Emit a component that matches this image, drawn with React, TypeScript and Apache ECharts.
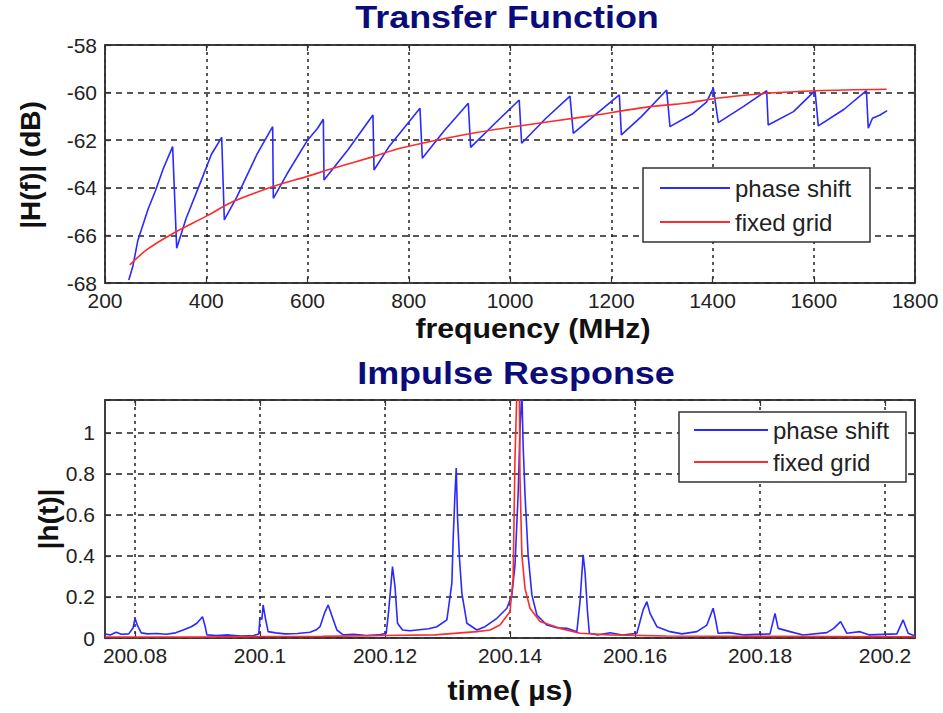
import React, { useEffect, useRef } from "react";
import * as echarts from "echarts";

// ---------- Transfer function data (frequency in MHz, |H(f)| in dB) ----------
const tfBlueFreq = [
  247, 255, 265, 285, 300, 315, 333.6, 341.6, 360, 390, 410, 430.5, 435.7, 460, 500, 531.2,
  532.5, 560, 600, 620, 631.3, 632.6, 680, 729.3, 731.4, 760, 822.2, 826.8, 870, 917.6, 922.3,
  970, 1018.2, 1023, 1070, 1118.5, 1125, 1170, 1216, 1220, 1260, 1309.5, 1316, 1360, 1388,
  1401.6, 1411.5, 1460, 1507, 1510, 1560, 1602.5, 1609, 1660, 1704, 1707.7, 1716, 1731, 1745,
];
const tfBlueDb = [
  -67.87, -67.3, -66.2, -64.9, -64.1, -63.2, -62.27, -66.54, -65.3, -63.7, -62.6, -61.88, -65.35,
  -64.4, -62.6, -61.43, -64.44, -63.4, -62.0, -61.5, -61.12, -63.67, -62.4, -60.94, -63.25, -62.3,
  -60.66, -62.76, -61.6, -60.45, -62.3, -61.3, -60.31, -62.13, -61.1, -60.15, -61.71, -60.9, -60.1,
  -61.78, -61.0, -59.89, -61.43, -60.9, -60.4, -59.82, -61.26, -60.6, -59.92, -61.36, -60.8, -59.92,
  -61.4, -60.7, -59.92, -61.5, -61.08, -60.94, -60.76,
];
const tfRedFreq = [
  249, 282, 335, 401, 453, 532, 598, 651, 730, 783, 907, 1018, 1149, 1277, 1346, 1408, 1507, 1606, 1744,
];
const tfRedDb = [
  -67.24, -66.61, -65.91, -65.18, -64.58, -63.95, -63.53, -63.18, -62.69, -62.34, -61.78, -61.4,
  -61.01, -60.59, -60.45, -60.24, -60.03, -59.92, -59.86,
];

// ---------- Impulse response data (time in µs, |h(t)|) ----------
const irBlueTime = [
  200.0752, 200.076, 200.077, 200.0778, 200.079, 200.0797, 200.08, 200.0804, 200.081, 200.082,
  200.0835, 200.085, 200.0865, 200.0877, 200.089, 200.0899, 200.0908, 200.0912, 200.0915, 200.093,
  200.095, 200.097, 200.099, 200.0998, 200.1, 200.1003, 200.1005, 200.1009, 200.1013, 200.1025,
  200.104, 200.106, 200.108, 200.109, 200.1096, 200.1103, 200.1109, 200.1116, 200.1123, 200.1133,
  200.115, 200.117, 200.119, 200.1202, 200.1206, 200.1212, 200.1216, 200.122, 200.1228, 200.124,
  200.1255, 200.127, 200.1283, 200.1299, 200.1307, 200.1309, 200.1312, 200.1314, 200.1316, 200.1319,
  200.1323, 200.1331, 200.1347, 200.136, 200.1379, 200.1395, 200.1403, 200.1408, 200.1413, 200.1416,
  200.1419, 200.1421, 200.1424, 200.1429, 200.1435, 200.1443, 200.1459, 200.1475, 200.1491, 200.1507,
  200.1512, 200.1517, 200.152, 200.1524, 200.1527, 200.154, 200.156, 200.158, 200.1603, 200.1613,
  200.1619, 200.1624, 200.1635, 200.1656, 200.1675, 200.1699, 200.1715, 200.1725, 200.1729, 200.1733,
  200.175, 200.1775, 200.1816, 200.1824, 200.1829, 200.1848, 200.1869, 200.1907, 200.1918, 200.1929,
  200.1939, 200.196, 200.1975, 200.2019, 200.2029, 200.2037, 200.2048,
];
const irBlueVal = [
  0.02, 0.015, 0.028, 0.018, 0.02, 0.05, 0.096, 0.06, 0.025, 0.02,
  0.022, 0.018, 0.025, 0.039, 0.055, 0.072, 0.104, 0.06, 0.015, 0.012,
  0.015, 0.01, 0.012, 0.02, 0.1, 0.09, 0.161, 0.09, 0.031, 0.025,
  0.02, 0.022, 0.028, 0.04, 0.055, 0.12, 0.161, 0.1, 0.039, 0.015,
  0.018, 0.012, 0.015, 0.023, 0.137, 0.348, 0.25, 0.072, 0.039, 0.035,
  0.04, 0.045, 0.055, 0.088, 0.267, 0.478, 0.706, 0.828, 0.592, 0.397,
  0.218, 0.072, 0.039, 0.055, 0.096, 0.145, 0.21, 0.356, 0.7, 1.02,
  1.2, 0.94, 0.7, 0.405, 0.21, 0.112, 0.063, 0.05, 0.047, 0.031,
  0.177, 0.405, 0.323, 0.128, 0.023, 0.015, 0.026, 0.015, 0.023, 0.137,
  0.177, 0.12, 0.055, 0.031, 0.02, 0.031, 0.063, 0.145, 0.088, 0.023,
  0.026, 0.015, 0.02, 0.12, 0.047, 0.031, 0.015, 0.026, 0.047, 0.08,
  0.023, 0.031, 0.015, 0.02, 0.088, 0.023, 0.01,
];
const irRedTime = [
  200.0752, 200.09, 200.1, 200.11, 200.12, 200.128, 200.1347, 200.1368, 200.1384, 200.14, 200.1405,
  200.1408, 200.1411, 200.1415, 200.1416, 200.1419, 200.1424, 200.1432, 200.1448, 200.148, 200.1512,
  200.156, 200.165, 200.18, 200.2048,
];
const irRedVal = [
  0.005, 0.005, 0.007, 0.008, 0.012, 0.015, 0.031, 0.039, 0.063, 0.128, 0.29,
  0.88, 1.2, 1.2, 0.78, 0.405, 0.242, 0.145, 0.08, 0.047, 0.023,
  0.015, 0.01, 0.008, 0.006,
];

const timeTicks = [200.08, 200.1, 200.12, 200.14, 200.16, 200.18, 200.2];
const legendNames = ["phase shift", "fixed grid"];

const FONT = "'Liberation Sans', Arial, Helvetica, sans-serif";
const BLUE = "#2a2aff";
const RED = "#ff2a2a";
const AXIS = "#333";

function zip(xs: number[], ys: number[]) {
  return xs.map((x, i) => [x, ys[i]]);
}

export default function App() {
  const ref = useRef<HTMLDivElement>(null);

  useEffect(() => {
    if (!ref.current) return;
    const chart = echarts.init(ref.current, undefined, { renderer: "svg" });

    const axisLine = { show: true, onZero: false, lineStyle: { color: AXIS, width: 1.5 } };
    const tick = { show: true, inside: true, length: 6, lineStyle: { color: AXIS, width: 1.2 } };
    const label = { color: "#222", fontSize: 21, fontFamily: FONT };
    const vSplit = { show: true, lineStyle: { color: "#222", type: [3, 4], width: 1.5 } };
    const hSplit = { show: true, lineStyle: { color: "#222", type: [6, 5], width: 1.5 } };

    const numFmt = (v: number) => String(parseFloat(v.toFixed(4)));

    const legendBase = {
      data: legendNames, orient: "vertical", icon: "rect", itemHeight: 2,
      padding: 0, selectedMode: false, z: 60,
      textStyle: { fontSize: 24, fontFamily: FONT, color: "#222" },
    };

    const titleStyle = { align: "center", verticalAlign: "middle", fontSize: 31, fontWeight: "bold", fontFamily: FONT, fill: "#0b0b7a" };
    const nameStyle = { align: "center", verticalAlign: "middle", fontSize: 28, fontWeight: "bold", fontFamily: FONT, fill: "#111" };

    const option: any = {
      animation: false,
      backgroundColor: "#fff",
      grid: [
        { left: 105, top: 45, width: 810, height: 238, show: true, borderColor: AXIS, borderWidth: 1.5, backgroundColor: "#fff" },
        { left: 105, top: 400, width: 810, height: 238, show: true, borderColor: AXIS, borderWidth: 1.5, backgroundColor: "#fff" },
      ],
      xAxis: [
        {
          gridIndex: 0, type: "value", min: 200, max: 1800, interval: 200, position: "bottom",
          axisLine, axisTick: tick, axisLabel: { ...label, margin: 7, formatter: numFmt }, splitLine: vSplit,
        },
        {
          gridIndex: 0, type: "value", min: 200, max: 1800, interval: 200, position: "top",
          axisLine, axisTick: tick, axisLabel: { show: false }, splitLine: { show: false },
        },
        {
          gridIndex: 1, type: "value", min: 200.0752, max: 200.2048, position: "bottom",
          axisLine,
          axisTick: { ...tick, customValues: timeTicks },
          axisLabel: { ...label, margin: 7, customValues: timeTicks, formatter: numFmt },
          splitLine: vSplit,
        },
        {
          gridIndex: 1, type: "value", min: 200.0752, max: 200.2048, position: "top",
          axisLine, axisTick: { ...tick, customValues: timeTicks }, axisLabel: { show: false }, splitLine: { show: false },
        },
      ],
      yAxis: [
        {
          gridIndex: 0, type: "value", min: -68, max: -58, interval: 2, position: "left",
          axisLine, axisTick: tick, axisLabel: { ...label, margin: 8, formatter: numFmt }, splitLine: hSplit,
        },
        {
          gridIndex: 0, type: "value", min: -68, max: -58, interval: 2, position: "right",
          axisLine, axisTick: tick, axisLabel: { show: false }, splitLine: { show: false },
        },
        {
          gridIndex: 1, type: "value", min: 0, max: 1.16, interval: 0.2, position: "left",
          axisLine, axisTick: tick,
          axisLabel: { ...label, margin: 10, showMaxLabel: false, formatter: (v: number) => String(parseFloat(v.toFixed(2))) },
          splitLine: hSplit,
        },
        {
          gridIndex: 1, type: "value", min: 0, max: 1.16, interval: 0.2, position: "right",
          axisLine, axisTick: tick, axisLabel: { show: false }, splitLine: { show: false },
        },
      ],
      legend: [
        { ...legendBase, left: 660, top: 176, itemWidth: 70, itemGap: 10 },
        { ...legendBase, left: 694, top: 418, itemWidth: 74, itemGap: 8 },
      ],
      graphic: [
        { type: "rect", z: 50, shape: { x: 643, y: 168, width: 227, height: 74 }, style: { fill: "#fff", stroke: AXIS, lineWidth: 1.5 } },
        { type: "rect", z: 50, shape: { x: 679, y: 412, width: 227, height: 70 }, style: { fill: "#fff", stroke: AXIS, lineWidth: 1.5 } },
        { type: "text", z: 50, x: 507, y: 17, scaleX: 1.16, style: { text: "Transfer Function", ...titleStyle } },
        { type: "text", z: 50, x: 516, y: 373, scaleX: 1.16, style: { text: "Impulse Response", ...titleStyle } },
        { type: "text", z: 50, x: 533, y: 328, scaleX: 1.08, style: { text: "frequency (MHz)", ...nameStyle } },
        { type: "text", z: 50, x: 510, y: 690, scaleX: 1.08, style: { text: "time( µs)", ...nameStyle } },
        { type: "text", z: 50, x: 30, y: 165, rotation: Math.PI / 2, style: { text: "|H(f)| (dB)", ...nameStyle } },
        { type: "text", z: 50, x: 48, y: 519, rotation: Math.PI / 2, style: { text: "|h(t)|", ...nameStyle } },
      ],
      series: [
        {
          name: "phase shift", type: "line", xAxisIndex: 0, yAxisIndex: 0, symbol: "none", clip: true,
          data: zip(tfBlueFreq, tfBlueDb), lineStyle: { color: BLUE, width: 1.6 }, itemStyle: { color: BLUE },
        },
        {
          name: "fixed grid", type: "line", xAxisIndex: 0, yAxisIndex: 0, symbol: "none", clip: true,
          data: zip(tfRedFreq, tfRedDb), smooth: 0.3, lineStyle: { color: RED, width: 1.6 }, itemStyle: { color: RED },
        },
        {
          name: "phase shift", type: "line", xAxisIndex: 2, yAxisIndex: 2, symbol: "none", clip: true,
          data: zip(irBlueTime, irBlueVal), lineStyle: { color: BLUE, width: 1.6 }, itemStyle: { color: BLUE },
        },
        {
          name: "fixed grid", type: "line", xAxisIndex: 2, yAxisIndex: 2, symbol: "none", clip: true,
          data: zip(irRedTime, irRedVal), lineStyle: { color: RED, width: 1.6 }, itemStyle: { color: RED },
        },
      ],
    };

    chart.setOption(option);
    return () => chart.dispose();
  }, []);

  return (
    <div
      ref={ref}
      style={{ position: "fixed", left: 0, top: 0, width: 943, height: 713, background: "#fff" }}
    />
  );
}
